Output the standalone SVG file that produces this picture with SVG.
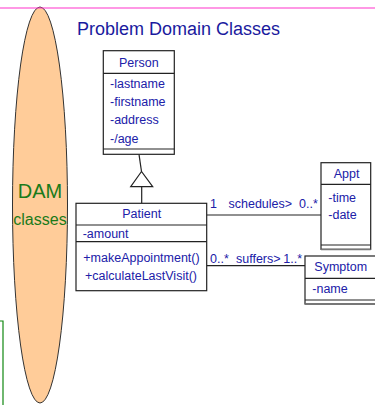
<svg xmlns="http://www.w3.org/2000/svg" width="375" height="405" viewBox="0 0 375 405">
<style>
.t{font-family:"Liberation Sans",Arial,sans-serif;font-size:12.5px;fill:#2020a8}
.c{text-anchor:middle}
.box{fill:#fff;stroke:#222;stroke-width:1.2}
.ln{stroke:#222;stroke-width:1.2;fill:none}
.sh{stroke:#777;stroke-width:1.5}
.g{font-family:"Liberation Sans",Arial,sans-serif;fill:#1a7a1a;text-anchor:middle}
</style>
<rect width="375" height="405" fill="#fff"/>
<g id="dam">
<ellipse cx="40" cy="205" rx="27.5" ry="198" fill="#ffcc99" stroke="#333" stroke-width="1"/>
<text class="g" x="40" y="198.3" font-size="20">DAM</text>
<text class="g" x="40" y="225" font-size="16">classes</text>
</g>
<line x1="0" y1="8" x2="375" y2="8" stroke="#ff33cc" stroke-width="1.2"/>
<polyline points="-1,321 3,321 3,406" fill="none" stroke="#118811" stroke-width="1.2"/>
<text x="77" y="35" font-family="Liberation Sans,Arial,sans-serif" font-size="18" fill="#1a1a9e">Problem Domain Classes</text>
<g id="connectors">
<polyline class="ln" points="139,154.3 141.5,171.5"/>
<polygon points="141.5,171.5 130.7,186.7 152.7,186.7" fill="#fff" stroke="#222" stroke-width="1.2"/>
<line class="ln" x1="141.7" y1="186.7" x2="141.7" y2="203.3"/>
<line class="ln" x1="206.7" y1="215" x2="321" y2="215"/>
<line class="ln" x1="206.7" y1="265.7" x2="305" y2="265.7"/>
<text class="t" x="210" y="208">1</text>
<text class="t" x="228.5" y="208">schedules&gt;</text>
<text class="t" x="299" y="208">0..*</text>
<text class="t" x="210" y="262.5">0..*</text>
<text class="t" x="236" y="262.5">suffers&gt;</text>
<text class="t" x="283.3" y="262.5">1..*</text>
</g>
<g id="person">
<rect class="box" x="103.3" y="50.7" width="71" height="103.6"/>
<line class="ln" x1="103.3" y1="73.3" x2="174.3" y2="73.3"/>
<line class="ln" x1="103.3" y1="149" x2="174.3" y2="149"/>
<text class="t c" x="138.8" y="66.7">Person</text>
<text class="t" x="110" y="88.3">-lastname</text>
<text class="t" x="110" y="106">-firstname</text>
<text class="t" x="110" y="124.3">-address</text>
<text class="t" x="110" y="143.3">-/age</text>
</g>
<g id="patient">
<rect class="box" x="76" y="203.3" width="130.7" height="87.4"/>
<line class="ln" x1="76" y1="225" x2="206.7" y2="225"/>
<line class="ln" x1="76" y1="241.7" x2="206.7" y2="241.7"/>
<text class="t c" x="141.7" y="218.3">Patient</text>
<text class="t" x="82.7" y="238.3">-amount</text>
<text class="t" x="83.3" y="261.7">+makeAppointment()</text>
<text class="t" x="85" y="280">+calculateLastVisit()</text>
</g>
<g id="appt">
<rect class="box" x="321" y="162.7" width="49.7" height="86.6"/>
<line class="ln" x1="321" y1="184.3" x2="370.7" y2="184.3"/>
<line class="ln" x1="321" y1="245" x2="370.7" y2="245"/>
<line class="sh" x1="321" y1="249.5" x2="370.7" y2="249.5"/>
<text class="t c" x="346.5" y="178.3">Appt</text>
<text class="t" x="328.3" y="201.7">-time</text>
<text class="t" x="328.3" y="219.3">-date</text>
</g>
<g id="symptom">
<rect class="box" x="305" y="256" width="75" height="48"/>
<line class="ln" x1="305" y1="278.3" x2="380" y2="278.3"/>
<line class="ln" x1="305" y1="300" x2="380" y2="300"/>
<line class="sh" x1="305" y1="304" x2="380" y2="304"/>
<text class="t" x="314.3" y="270.7">Symptom</text>
<text class="t" x="312.3" y="292.7">-name</text>
</g>
</svg>
